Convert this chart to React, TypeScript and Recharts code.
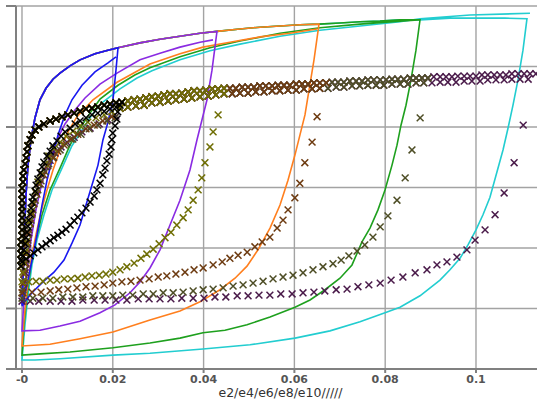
import { CartesianGrid, ComposedChart, Line, Scatter, XAxis, YAxis } from 'recharts';

type Pt = [number, number];

// strain ticks along the bottom
const X_TICKS = [0, 0.02, 0.04, 0.06, 0.08, 0.1];
const Y_TICKS = [0, 100, 200, 300, 400, 500, 600];

// ---- solid loops (e2..e10) ----
// first loading: one shared envelope, each loop runs along it up to its peak
const LINE_LOADING: Pt[] = [
  [0, 106], [0.00022, 147], [0.00044, 197], [0.00066, 246], [0.00088, 288],
  [0.00132, 337], [0.00198, 379], [0.00286, 415], [0.00396, 445], [0.00529, 464],
  [0.00683, 479], [0.00837, 489], [0.01057, 501], [0.01278, 511], [0.01608, 521],
  [0.01894, 527], [0.02115, 531], [0.02599, 539], [0.0304, 545], [0.0348, 550],
  [0.03921, 555], [0.04295, 558], [0.04802, 562], [0.05242, 565], [0.05683, 567],
  [0.06123, 569], [0.06542, 570], [0.07004, 572], [0.07445, 574], [0.07885, 575],
  [0.08326, 577], [0.08767, 577], [0.09427, 580], [0.10088, 580], [0.10639, 580],
  [0.11123, 579],
];
const LINE_PEAKS = [0.02115, 0.04295, 0.06542, 0.08767, 0.11123];

const BLUE_UNLOAD: Pt[] = [
  [0.0207, 494], [0.02004, 445], [0.01894, 408], [0.01784, 379], [0.01674, 337],
  [0.01542, 304], [0.0141, 271], [0.01278, 238], [0.01101, 208], [0.00925, 180],
  [0.00705, 160], [0.00463, 144], [0.0022, 126], [0.00066, 112], [0, 104],
];
const BLUE_RELOAD: Pt[] = [
  [0.0011, 139], [0.0022, 180], [0.0033, 222], [0.00441, 271], [0.00551, 312],
  [0.00661, 345], [0.00793, 387], [0.00947, 420], [0.01101, 445], [0.01322, 469],
  [0.01608, 491], [0.01894, 506], [0.0207, 516],
];
const PURPLE_UNLOAD: Pt[] = [
  [0.04185, 494], [0.04075, 445], [0.03965, 412], [0.03855, 379], [0.037, 329],
  [0.0348, 279], [0.0326, 238], [0.0304, 197], [0.02819, 167], [0.02599, 144],
  [0.02379, 126], [0.02048, 106], [0.01718, 93], [0.01278, 79], [0.00837, 71],
  [0.00396, 64], [0, 63],
];
const PURPLE_RELOAD: Pt[] = [
  [0.00044, 114], [0.0011, 164], [0.00198, 213], [0.00308, 263], [0.00441, 309],
  [0.00595, 345], [0.00771, 379], [0.00947, 405], [0.01167, 428], [0.01388, 448],
  [0.01718, 471], [0.02093, 489], [0.02599, 511], [0.0304, 522], [0.0348, 532],
  [0.03921, 540], [0.04207, 544],
];
const ORANGE_UNLOAD: Pt[] = [
  [0.06432, 511], [0.06322, 461], [0.06233, 420], [0.06123, 387], [0.06013, 354],
  [0.05859, 312], [0.05683, 271], [0.05463, 233], [0.05198, 197], [0.04956, 170],
  [0.04692, 150], [0.04361, 131], [0.03921, 111], [0.0348, 96], [0.02819, 81],
  [0.02004, 61], [0.01278, 50], [0.00617, 41], [0, 38],
];
const ORANGE_RELOAD: Pt[] = [
  [0.00044, 81], [0.0011, 131], [0.00198, 180], [0.00308, 222], [0.00419, 260],
  [0.00551, 296], [0.00683, 329], [0.00837, 362], [0.01013, 392], [0.01211, 417],
  [0.01564, 445], [0.02093, 474], [0.02819, 504], [0.0348, 521], [0.03987, 532],
  [0.04581, 540], [0.05242, 549], [0.05903, 555], [0.06498, 562],
];
const GREEN_UNLOAD: Pt[] = [
  [0.08678, 527], [0.08568, 478], [0.08458, 436], [0.08348, 403], [0.0826, 370],
  [0.0815, 337], [0.07996, 296], [0.07841, 263], [0.07665, 233], [0.07489, 210],
  [0.07269, 172], [0.07004, 150], [0.06674, 131], [0.06344, 114], [0.06013, 102],
  [0.05463, 86], [0.04956, 73], [0.04471, 64], [0.03987, 60], [0.0348, 51],
  [0.02819, 43], [0.02004, 35], [0.01057, 28], [0.00396, 25], [0, 23],
];
const GREEN_RELOAD: Pt[] = [
  [0.00044, 73], [0.0011, 122], [0.00198, 172], [0.00308, 213], [0.00441, 255],
  [0.00617, 296], [0.00837, 332], [0.01057, 370], [0.01278, 398], [0.01498, 423],
  [0.01718, 446], [0.02115, 469], [0.02485, 486], [0.02819, 498], [0.0348, 516],
  [0.04141, 531], [0.04802, 542], [0.05683, 555], [0.06564, 564], [0.07445, 570],
  [0.08326, 575], [0.08722, 577],
];
const CYAN_UNLOAD: Pt[] = [
  [0.11035, 527], [0.10925, 478], [0.10815, 436], [0.10705, 398], [0.10595, 362],
  [0.10463, 326], [0.10308, 284], [0.10154, 255], [0.1, 230], [0.09824, 205],
  [0.09648, 183], [0.09427, 164], [0.09207, 147], [0.08767, 121], [0.08326, 102],
  [0.07996, 93], [0.07445, 78], [0.06784, 63], [0.06013, 51], [0.05022, 40],
  [0.03987, 33], [0.02819, 26], [0.02004, 23], [0.00837, 17], [0.00286, 15], [0, 15],
];
const CYAN_RELOAD: Pt[] = [
  [0.00066, 73], [0.00132, 122], [0.0022, 172], [0.0033, 213], [0.00485, 255],
  [0.00661, 296], [0.00881, 332], [0.01101, 369], [0.01322, 395], [0.01542, 420],
  [0.01762, 440], [0.02159, 463], [0.02533, 481], [0.02863, 493], [0.0348, 511],
  [0.04141, 526], [0.04802, 537], [0.05683, 550], [0.06564, 560], [0.07445, 567],
  [0.08326, 574], [0.08767, 579], [0.09868, 585], [0.11189, 588],
];

// ---- marker loops (x symbols) ----
const SCATTER_LOADING: Pt[] = [
  [-0.0002, 170], [-0.0002, 180], [-0.0002, 190], [-0.0002, 200], [-0.0002, 210],
  [0, 220], [0, 230], [0, 240], [0, 250], [0, 260], [0, 269], [0, 279], [0, 289], [0, 299],
  [0.0002, 309], [0.0002, 319], [0.0004, 329], [0.0007, 339], [0.0009, 349], [0.0011, 359],
  [0.0013, 369], [0.0018, 379], [0.0022, 387], [0.0029, 395], [0.0037, 400], [0.0048, 405],
  [0.0062, 410], [0.0075, 413], [0.0088, 417], [0.0101, 420], [0.0115, 423], [0.0128, 426],
  [0.0141, 430], [0.0154, 431], [0.0167, 433], [0.0181, 436], [0.0194, 438], [0.0207, 440],
  [0.022, 441], [0.0233, 443], [0.0247, 445], [0.026, 446], [0.0273, 448], [0.0286, 450],
  [0.03, 451], [0.0313, 453], [0.0326, 455], [0.0339, 455], [0.0352, 456], [0.0366, 458],
  [0.0379, 460], [0.0392, 460], [0.0405, 461], [0.0419, 463], [0.0432, 463], [0.0445, 464],
  [0.0458, 464], [0.0471, 464], [0.0485, 466], [0.0498, 466], [0.0511, 466], [0.0524, 468],
  [0.0537, 468], [0.0551, 468], [0.0564, 469], [0.0577, 469], [0.059, 469], [0.0604, 471],
  [0.0617, 471], [0.063, 471], [0.0643, 473], [0.0656, 473], [0.067, 473], [0.0683, 474],
  [0.0696, 474], [0.0709, 474], [0.0722, 476], [0.0736, 476], [0.0749, 476], [0.0762, 478],
  [0.0775, 478], [0.0789, 478], [0.0802, 478], [0.0815, 479], [0.0828, 479], [0.0841, 479],
  [0.0855, 481], [0.0868, 481], [0.0881, 481], [0.0894, 481], [0.0907, 483], [0.0921, 483],
  [0.0934, 483], [0.0947, 483], [0.096, 484], [0.0974, 484], [0.0987, 484], [0.1, 484],
  [0.1013, 486], [0.1026, 486], [0.104, 486], [0.1053, 486], [0.1066, 486], [0.1079, 488],
  [0.1093, 488], [0.1106, 488], [0.1119, 488], [0.1132, 488],
];
// second loading band, shared by the longer loops
const RELOAD_BAND: Pt[] = [
  [0.0216, 431], [0.0233, 433], [0.0251, 435], [0.0269, 436], [0.0286, 440], [0.0304, 441],
  [0.0322, 443], [0.0339, 445], [0.0357, 446], [0.0374, 448], [0.0392, 450], [0.041, 451],
  [0.0427, 453], [0.0445, 455], [0.0463, 455], [0.048, 456], [0.0498, 456], [0.0515, 458],
  [0.0533, 458], [0.0551, 460], [0.0568, 460], [0.0586, 461], [0.0604, 461], [0.0621, 463],
  [0.0639, 463], [0.0656, 464], [0.0674, 464], [0.0692, 466], [0.0709, 466], [0.0727, 468],
  [0.0744, 468], [0.0762, 469], [0.078, 469], [0.0797, 469], [0.0815, 471], [0.0833, 471],
  [0.085, 471], [0.0868, 473], [0.0885, 473], [0.0903, 473], [0.0921, 474], [0.0938, 474],
  [0.0956, 474], [0.0974, 476], [0.0991, 476], [0.1009, 476], [0.1026, 478], [0.1044, 478],
  [0.1062, 478], [0.1079, 479], [0.1097, 479], [0.1115, 479],
];

const BLACK_UNLOAD: Pt[] = [
  [0.0216, 436], [0.0211, 425], [0.0209, 413], [0.0205, 402], [0.02, 390], [0.0198, 379],
  [0.0196, 367], [0.0192, 355], [0.0187, 344], [0.0183, 332], [0.0178, 321], [0.0172, 307],
  [0.0165, 296], [0.0159, 286], [0.015, 276], [0.0141, 266], [0.0132, 258], [0.0123, 251],
  [0.0115, 245], [0.0106, 238], [0.0097, 231], [0.0088, 226], [0.0079, 221], [0.007, 217],
  [0.0062, 212], [0.0053, 207], [0.0044, 202], [0.0035, 197], [0.0026, 192], [0.0018, 187],
  [0.0009, 182], [0, 177],
];
const BLACK_RELOAD: Pt[] = [
  [0.0002, 187], [0.0004, 197], [0.0007, 207], [0.0009, 217], [0.0011, 226], [0.0013, 236],
  [0.0015, 246], [0.0018, 256], [0.002, 266], [0.0022, 276], [0.0024, 284], [0.0029, 294],
  [0.0031, 304], [0.0035, 314], [0.004, 324], [0.0044, 334], [0.0048, 342], [0.0055, 352],
  [0.0062, 360], [0.0068, 369], [0.0077, 377], [0.0086, 385], [0.0095, 392], [0.0106, 398],
  [0.0117, 405], [0.0128, 410], [0.0141, 415], [0.0154, 420], [0.0167, 423], [0.0181, 426],
  [0.0194, 430], [0.0207, 433],
];
const OLIVE_UNLOAD: Pt[] = [
  [0.0432, 420], [0.0421, 392], [0.0414, 367], [0.0403, 341], [0.0396, 316], [0.0388, 296],
  [0.0377, 279], [0.0366, 263], [0.0355, 250], [0.0341, 238], [0.0328, 226], [0.0315, 217],
  [0.0302, 207], [0.0289, 198], [0.0275, 190], [0.0262, 183], [0.0247, 175], [0.0231, 169],
  [0.0216, 164], [0.02, 160], [0.0185, 157], [0.017, 155], [0.0154, 154], [0.0139, 152],
  [0.0123, 150], [0.0108, 149], [0.0093, 149], [0.0077, 147], [0.0062, 147], [0.0046, 145],
  [0.0031, 145], [0.0015, 144], [0, 144],
];
const OLIVE_RELOAD: Pt[] = [
  [0.0002, 160], [0.0004, 177], [0.0007, 193], [0.0009, 210], [0.0011, 226], [0.0015, 243],
  [0.002, 260], [0.0024, 276], [0.0029, 293], [0.0035, 309], [0.0042, 324], [0.0051, 339],
  [0.0059, 352], [0.007, 364], [0.0084, 375], [0.0097, 385], [0.0112, 393], [0.0128, 402],
  [0.0145, 408], [0.0163, 415], [0.0181, 420], [0.0198, 425],
];
const BROWN_UNLOAD: Pt[] = [
  [0.065, 417], [0.0639, 375], [0.0623, 341], [0.0612, 307], [0.0601, 283], [0.0586, 263],
  [0.0575, 246], [0.0562, 233], [0.0546, 218], [0.0529, 210], [0.0513, 202], [0.0496, 193],
  [0.0476, 188], [0.0458, 183], [0.0441, 177], [0.0421, 172], [0.0399, 167], [0.0379, 164],
  [0.0359, 160], [0.0339, 157], [0.0319, 154], [0.03, 152], [0.028, 149], [0.026, 147],
  [0.024, 145], [0.022, 144], [0.02, 142], [0.0181, 139], [0.0161, 137], [0.0141, 136],
  [0.0121, 134], [0.0101, 132], [0.0081, 131], [0.0062, 129], [0.0042, 127], [0.0022, 127],
  [0, 126],
];
const BROWN_RELOAD: Pt[] = [
  [0.0002, 141], [0.0004, 157], [0.0007, 174], [0.0009, 190], [0.0011, 207], [0.0013, 223],
  [0.0018, 240], [0.0022, 256], [0.0026, 273], [0.0033, 289], [0.004, 306], [0.0048, 321],
  [0.0057, 336], [0.0068, 349], [0.0079, 360], [0.0093, 370], [0.0108, 380], [0.0123, 388],
  [0.0141, 397], [0.0159, 403], [0.0178, 410], [0.0198, 417],
];
const DARK_OLIVE_UNLOAD: Pt[] = [
  [0.0877, 415], [0.0859, 362], [0.0844, 316], [0.0826, 279], [0.0806, 253], [0.0789, 235],
  [0.0773, 218], [0.0755, 205], [0.0738, 195], [0.072, 187], [0.0703, 180], [0.0685, 174],
  [0.0663, 169], [0.0641, 164], [0.0619, 159], [0.0597, 155], [0.0575, 152], [0.0553, 149],
  [0.0531, 145], [0.0509, 142], [0.0487, 139], [0.0465, 137], [0.0443, 134], [0.0421, 132],
  [0.0399, 131], [0.0377, 129], [0.0355, 127], [0.0333, 126], [0.0311, 126], [0.0289, 124],
  [0.0267, 124], [0.0244, 122], [0.0222, 122], [0.02, 121], [0.0178, 121], [0.0156, 121],
  [0.0134, 119], [0.0112, 119], [0.009, 119], [0.0068, 117], [0.0046, 117], [0.0024, 117],
  [0, 117],
];
const DARK_OLIVE_RELOAD: Pt[] = [
  [0.0002, 131], [0.0004, 147], [0.0007, 164], [0.0009, 180], [0.0011, 197], [0.0013, 213],
  [0.0015, 230], [0.002, 246], [0.0024, 263], [0.0029, 279], [0.0035, 296], [0.0042, 311],
  [0.0051, 326], [0.0059, 339], [0.007, 350], [0.0084, 362], [0.0097, 372], [0.0112, 380],
  [0.013, 388], [0.0148, 397], [0.0167, 403], [0.0187, 410], [0.0205, 415],
];
const PLUM_UNLOAD: Pt[] = [
  [0.1104, 403], [0.1084, 341], [0.1062, 291], [0.1042, 255], [0.102, 230], [0.0998, 213],
  [0.098, 197], [0.0958, 185], [0.0936, 177], [0.0914, 172], [0.0892, 164], [0.0866, 159],
  [0.0839, 152], [0.0813, 147], [0.0789, 142], [0.0764, 139], [0.074, 136], [0.0716, 132],
  [0.0692, 131], [0.0667, 129], [0.0643, 127], [0.0619, 126], [0.0595, 124], [0.057, 124],
  [0.0546, 122], [0.0522, 122], [0.0498, 121], [0.0474, 121], [0.0449, 119], [0.0425, 119],
  [0.0401, 117], [0.0377, 117], [0.0352, 117], [0.0328, 116], [0.0304, 116], [0.028, 116],
  [0.0256, 116], [0.0231, 114], [0.0207, 114], [0.0183, 114], [0.0159, 114], [0.0134, 114],
  [0.011, 112], [0.0086, 112], [0.0062, 112], [0.0037, 112], [0.0018, 112], [0, 112],
];
const PLUM_RELOAD: Pt[] = [
  [0.0002, 126], [0.0004, 142], [0.0007, 159], [0.0009, 175], [0.0011, 192], [0.0013, 208],
  [0.0015, 225], [0.0018, 241], [0.0022, 258], [0.0026, 274], [0.0031, 291], [0.0037, 306],
  [0.0044, 321], [0.0053, 334], [0.0062, 345], [0.0073, 357], [0.0086, 367], [0.0099, 375],
  [0.0115, 383], [0.0132, 392], [0.015, 398], [0.017, 405], [0.0189, 412], [0.0207, 418],
];

const rows = (pts: Pt[]) => pts.map(([x, y]) => ({ x, y }));
const upTo = (pts: Pt[], peak: number) => pts.filter((p) => p[0] <= peak + 1e-9);

// drawn back to front: cyan first, blue ends up on top
const LINE_SERIES = [
  { name: 'e10', color: '#22cdd0', peak: LINE_PEAKS[4], unload: CYAN_UNLOAD, reload: CYAN_RELOAD },
  { name: 'e8', color: '#1ea01e', peak: LINE_PEAKS[3], unload: GREEN_UNLOAD, reload: GREEN_RELOAD },
  { name: 'e6', color: '#ff7f1e', peak: LINE_PEAKS[2], unload: ORANGE_UNLOAD, reload: ORANGE_RELOAD },
  { name: 'e4', color: '#8a2be2', peak: LINE_PEAKS[1], unload: PURPLE_UNLOAD, reload: PURPLE_RELOAD },
  { name: 'e2', color: '#1818f0', peak: LINE_PEAKS[0], unload: BLUE_UNLOAD, reload: BLUE_RELOAD },
].map((s) => ({
  ...s,
  data: rows([...upTo(LINE_LOADING, s.peak), ...s.unload, ...s.reload]),
}));

const MARK_SERIES = [
  { name: 'x10', color: '#4b1c4b', peak: 0.1132, band: 0.1115, unload: PLUM_UNLOAD, reload: PLUM_RELOAD },
  { name: 'x8', color: '#4e4e26', peak: 0.0899, band: 0.089, unload: DARK_OLIVE_UNLOAD, reload: DARK_OLIVE_RELOAD },
  { name: 'x6', color: '#6e3c12', peak: 0.067, band: 0.0656, unload: BROWN_UNLOAD, reload: BROWN_RELOAD },
  { name: 'x4', color: '#6f6e04', peak: 0.0451, band: 0.0445, unload: OLIVE_UNLOAD, reload: OLIVE_RELOAD },
  { name: 'x2', color: '#000000', peak: 0.0222, band: 0, unload: BLACK_UNLOAD, reload: BLACK_RELOAD },
].map((s) => ({
  ...s,
  data: rows([
    ...upTo(SCATTER_LOADING, s.peak),
    ...s.unload,
    ...s.reload,
    ...upTo(RELOAD_BAND, s.band),
  ]),
}));

const crossShape = (color: string) => (props: any) => {
  const { cx, cy } = props;
  if (cx == null || cy == null) return <g />;
  const r = 3.4;
  return (
    <path
      d={`M${cx - r},${cy - r}L${cx + r},${cy + r}M${cx - r},${cy + r}L${cx + r},${cy - r}`}
      stroke={color}
      strokeWidth={1.5}
      fill="none"
    />
  );
};

const fmtTick = (v: number) => (v === 0 ? '-0' : String(v));

export default function App() {
  return (
    <div
      style={{
        position: 'absolute',
        left: 0,
        top: 0,
        width: 537,
        height: 401,
        overflow: 'hidden',
        background: '#fff',
      }}
    >
      <ComposedChart width={545} height={401} margin={{ top: 6, right: 0, bottom: 0, left: 0 }}>
        <CartesianGrid stroke="#a3a3a3" strokeWidth={1.4} />
        <XAxis
          type="number"
          dataKey="x"
          domain={[-0.00132, 0.1152]}
          allowDataOverflow
          ticks={X_TICKS}
          tickFormatter={fmtTick}
          height={32}
          tickSize={4}
          stroke="#808080"
          strokeWidth={2}
          tick={{ fill: '#555', fontSize: 11, fontWeight: 700, fontFamily: 'DejaVu Sans' }}
          label={{
            value: 'e2/e4/e6/e8/e10/////',
            position: 'insideBottom',
            offset: 4,
            fill: '#333',
            fontSize: 12.5,
            fontFamily: 'DejaVu Sans',
          }}
        />
        <YAxis
          type="number"
          dataKey="y"
          domain={[0, 600]}
          allowDataOverflow
          ticks={Y_TICKS}
          tickFormatter={() => ''}
          width={16}
          tickSize={10}
          stroke="#808080"
          strokeWidth={2}
        />
        {LINE_SERIES.map((s) => (
          <Line
            key={s.name}
            data={s.data}
            dataKey="y"
            type="linear"
            stroke={s.color}
            strokeWidth={1.6}
            dot={false}
            activeDot={false}
            isAnimationActive={false}
          />
        ))}
        {MARK_SERIES.map((s) => (
          <Scatter
            key={s.name}
            data={s.data}
            dataKey="y"
            shape={crossShape(s.color)}
            isAnimationActive={false}
          />
        ))}
      </ComposedChart>
    </div>
  );
}
